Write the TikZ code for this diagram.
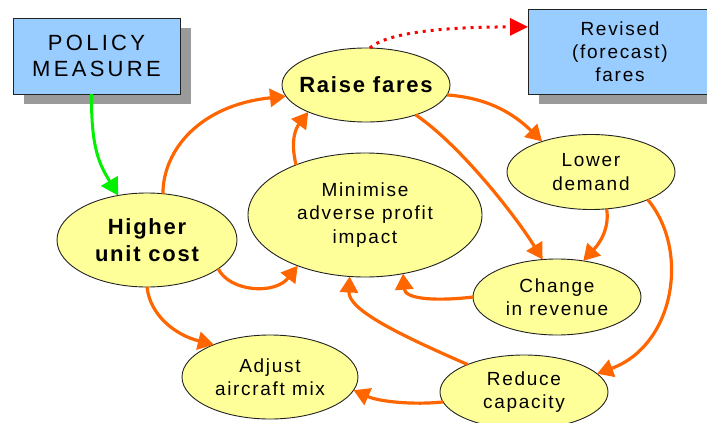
\documentclass[tikz,border=0pt]{standalone}
\usepackage{fontspec}
\setmainfont{Liberation Sans}
\newfontfamily\labfont[LetterSpace=9]{Liberation Sans}
\newfontfamily\boldlabfont[LetterSpace=8]{Liberation Sans}
\newfontfamily\policyfont[LetterSpace=15]{Liberation Sans}
\usetikzlibrary{arrows.meta,shapes.geometric,shadows}
\definecolor{nodeyellow}{HTML}{FFFF99}
\definecolor{boxblue}{HTML}{99CCFF}
\definecolor{arrorange}{HTML}{FF6600}
\definecolor{arrgreen}{HTML}{00F000}
\definecolor{shadowgray}{HTML}{9A9A9A}
\definecolor{edgegray}{HTML}{222222}
\begin{document}
\begin{tikzpicture}[x=1pt,y=-1pt,
  bubble/.style={ellipse, draw=edgegray, line width=0.9pt, fill=nodeyellow, inner sep=0pt, outer sep=0pt, align=center,
    font=\labfont\fontsize{19}{23.5}\selectfont},
  boldbubble/.style={bubble, font=\boldlabfont\bfseries\fontsize{22}{27}\selectfont},
  infobox/.style={rectangle, draw=edgegray, line width=1pt, fill=boxblue, inner sep=0pt, outer sep=0pt, align=center,
    drop shadow={shadow xshift=11pt, shadow yshift=-10pt, fill=shadowgray, opacity=1}},
  flow/.style={draw=arrorange, line width=3.2pt, -{Triangle[length=16pt,width=18pt]}},
  policyflow/.style={draw=arrgreen, line width=3pt, -{Triangle[length=17pt,width=19pt]}},
  forecastflow/.style={draw=red, line width=3pt, dash pattern=on 3pt off 5pt, -{Triangle[length=18pt,width=17pt]}}
]
\useasboundingbox (0,0) rectangle (707,423);

% boxes
\node[infobox, minimum width=167pt, minimum height=76pt, font=\policyfont\fontsize{22}{26}\selectfont] (pol) at (96.5,56) {POLICY\\MEASURE};
\node[infobox, minimum width=184pt, minimum height=85pt, font=\labfont\fontsize{19}{23}\selectfont] (rev) at (620,51.5) {Revised\\(forecast)\\fares};

% bubbles
\node[boldbubble, minimum width=168pt, minimum height=74pt, inner xsep=-25pt] (raise) at (366,85) {Raise fares};
\node[bubble, minimum width=168pt, minimum height=75pt, inner xsep=-10pt] (lower) at (591,172) {Lower\\demand};
\node[bubble, minimum width=234pt, minimum height=124pt, inner sep=-6pt] (mini) at (365,215) {Minimise\\adverse profit\\impact};
\node[boldbubble, minimum width=180pt, minimum height=94pt] (higher) at (147,240) {Higher\\unit cost};
\node[bubble, minimum width=168pt, minimum height=76pt, inner sep=-8pt] (change) at (557,297) {Change\\in revenue};
\node[bubble, minimum width=168pt, minimum height=74pt, inner sep=-8pt] (reduce) at (524,392) {Reduce\\capacity};
\node[bubble, minimum width=176pt, minimum height=84pt, inner sep=-8pt] (adjust) at (270,377) {Adjust\\aircraft mix};

% connectors
\draw[policyflow] ([xshift=-5pt]pol.south) .. controls (91,150) and (100,165) .. (higher.123);
\draw[flow] (higher.71) .. controls (163,150) and (200,105) .. (raise.188);
\draw[flow] (mini.144) .. controls (290,140) and (296,128) .. (raise.205);
\draw[forecastflow] (raise.84) .. controls (390,30) and (460,27) .. (rev.165);
\draw[flow] (raise.-7) .. controls (490,98) and (515,115) .. (lower.148);
\draw[flow] (raise.-31) .. controls (460,145) and (515,215) .. (change.111);
\draw[flow] (lower.-67) .. controls (610,230) and (598,245) .. (change.54);
\draw[flow] (lower.-26) .. controls (690,250) and (675,345) .. (reduce.14);
\draw[flow] (change.180) .. controls (440,301) and (405,300) .. (mini.-57);
\draw[flow] (reduce.154) .. controls (400,335) and (348,310) .. (mini.-104);
\draw[flow] (reduce.187) .. controls (415,405) and (380,402) .. (adjust.-9);
\draw[flow] (higher.-22) .. controls (230,292) and (275,295) .. (mini.-143);
\draw[flow] (higher.-90) .. controls (150,315) and (175,335) .. (adjust.150);
\end{tikzpicture}
\end{document}
